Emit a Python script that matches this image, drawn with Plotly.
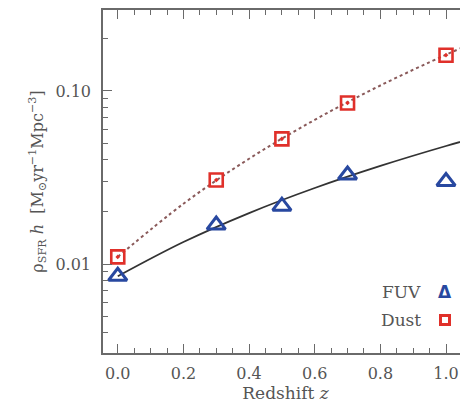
import plotly.graph_objects as go

# Data points
z_pts = [0.0, 0.3, 0.5, 0.7, 1.0]
fuv_vals = [0.0085, 0.0168, 0.0216, 0.0327, 0.0300]
dust_vals = [0.0110, 0.0306, 0.0529, 0.0853, 0.161]

# Fitted curves
z_curve = [0.0, 0.2, 0.4, 0.6, 0.8, 1.0, 1.1]
fuv_curve = [0.0085, 0.0134, 0.0197, 0.0275, 0.0369, 0.0481, 0.0543]
dust_curve = [0.0110, 0.0223, 0.0406, 0.0681, 0.1076, 0.162, 0.196]

x_ticks = [0.0, 0.2, 0.4, 0.6, 0.8, 1.0]
x_ticktext = ["0.0", "0.2", "0.4", "0.6", "0.8", "1.0"]
y_ticks = [0.01, 0.1]
y_ticktext = ["0.01", "0.10"]
y_minor = [m * d for d in (0.001, 0.01, 0.1) for m in range(2, 10)]

FONT = "DejaVu Serif"
AX = "#6a6a6a"
TXT = "#555555"
BLUE = "#2848a0"
RED = "#e0302a"

fig = go.Figure()
fig.add_trace(go.Scatter(x=z_curve, y=dust_curve, mode="lines", line_shape="spline",
                         line=dict(color="#8a5a5a", width=2, dash="dot"), showlegend=False))
fig.add_trace(go.Scatter(x=z_curve, y=fuv_curve, mode="lines", line_shape="spline",
                         line=dict(color="#333333", width=1.8), showlegend=False))
fig.add_trace(go.Scatter(x=z_pts, y=dust_vals, mode="markers", name="Dust",
                         marker=dict(symbol="square-open-dot", size=13, color=RED,
                                     line=dict(width=2.6, color=RED)), showlegend=False))
fig.add_trace(go.Scatter(x=z_pts, y=fuv_vals, mode="markers", name="FUV",
                         marker=dict(symbol="triangle-up-open", size=16, color=BLUE,
                                     line=dict(width=3, color=BLUE)), showlegend=False))

# legend (text left, symbol right)
FUV_Y, DUST_Y = 0.178, 0.096
fig.add_annotation(xref="paper", yref="paper", x=0.877, y=FUV_Y, xanchor="right", yanchor="middle",
                   text="FUV", showarrow=False, font=dict(family=FONT, size=17, color=TXT))
fig.add_annotation(xref="paper", yref="paper", x=0.877, y=DUST_Y, xanchor="right", yanchor="middle",
                   text="Dust", showarrow=False, font=dict(family=FONT, size=17, color=TXT))
fig.add_annotation(xref="paper", yref="paper", x=0.937, y=FUV_Y, xanchor="center", yanchor="middle",
                   text="<b>Δ</b>", showarrow=False,
                   font=dict(family="DejaVu Sans", size=17, color=BLUE))
fig.add_annotation(xref="paper", yref="paper", x=0.937, y=DUST_Y, xanchor="center", yanchor="middle",
                   text=" ", showarrow=False, width=6, height=6, borderpad=0,
                   bordercolor=RED, borderwidth=3, font=dict(size=4))

fig.update_layout(
    width=460, height=398,
    margin=dict(l=95, r=0, t=2, b=53),
    plot_bgcolor="white", paper_bgcolor="white",
    font=dict(family=FONT, size=16, color=TXT),
    showlegend=False,
)
fig.update_xaxes(
    range=[-0.045, 1.067], showgrid=False, zeroline=False,
    showline=True, linecolor=AX, linewidth=1.5, mirror="ticks",
    ticks="inside", ticklen=9, tickwidth=1.3, tickcolor=AX,
    tickvals=x_ticks, ticktext=x_ticktext, ticklabelstandoff=5,
    minor=dict(ticks="inside", ticklen=5, tickwidth=1.2, tickcolor=AX, dtick=0.05, tick0=0),
    title=dict(text="Redshift <i>z</i>", standoff=0, font=dict(family=FONT, size=17, color=TXT)),
)
fig.update_yaxes(
    type="log", range=[-2.514, -0.532], showgrid=False, zeroline=False,
    showline=True, linecolor=AX, linewidth=1.5, mirror=False,
    ticks="inside", ticklen=9, tickwidth=1.3, tickcolor=AX,
    tickvals=y_ticks, ticktext=y_ticktext, ticklabelstandoff=7,
    minor=dict(ticks="inside", ticklen=5, tickwidth=1.2, tickcolor=AX, tickvals=y_minor),
    title=dict(text="ρ<sub>SFR</sub> <i>h</i>  [M<sub>⊙</sub>yr<sup>−1</sup>Mpc<sup>−3</sup>]",
               standoff=8, font=dict(family=FONT, size=16, color=TXT)),
)

fig.write_html("out.html")
